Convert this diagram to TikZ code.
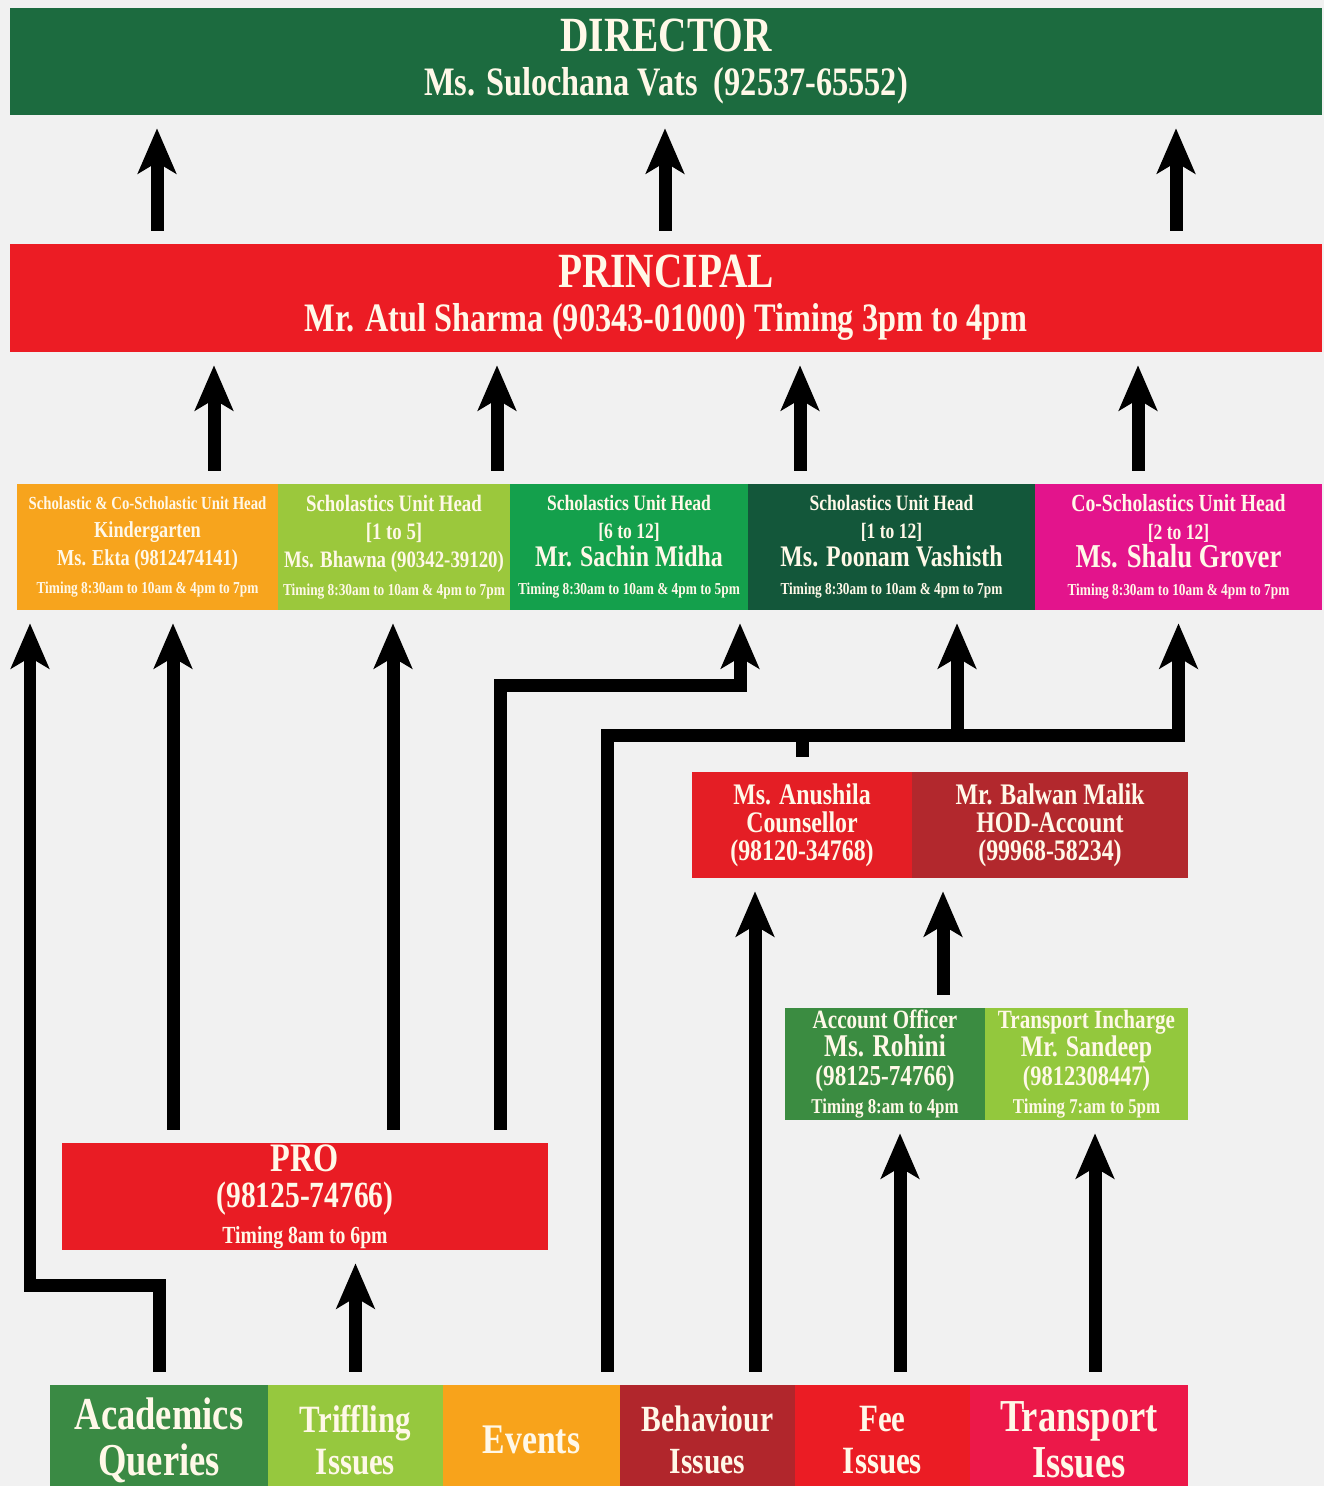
\documentclass[tikz,border=0pt]{standalone}
\usepackage{fontspec}
\setmainfont{Liberation Serif}[FakeStretch=0.8]
\usepackage{tikz}
\usetikzlibrary{arrows.meta}

\definecolor{bg}{HTML}{F1F1F1}
\definecolor{txt}{HTML}{FFF8E8}
\definecolor{dirgreen}{HTML}{1C6B3F}
\definecolor{prinred}{HTML}{EC1C24}
\definecolor{kgorange}{HTML}{F7A41D}
\definecolor{primlime}{HTML}{9BC83C}
\definecolor{secgreen}{HTML}{14A04C}
\definecolor{allgreen}{HTML}{13573A}
\definecolor{comagenta}{HTML}{E3148C}
\definecolor{counsred}{HTML}{E41E25}
\definecolor{hodred}{HTML}{B2282D}
\definecolor{accgreen}{HTML}{3B8C41}
\definecolor{translime}{HTML}{93C83D}
\definecolor{prored}{HTML}{E91C24}
\definecolor{acadgreen}{HTML}{3A8A44}
\definecolor{triflime}{HTML}{96C83E}
\definecolor{evorange}{HTML}{F8A31B}
\definecolor{behavred}{HTML}{B1262C}
\definecolor{feered}{HTML}{EB1C24}
\definecolor{transred}{HTML}{EC1849}

\newcommand{\fs}[2]{\fontsize{#1}{#2}\selectfont}

\begin{document}
\begin{tikzpicture}[x=0.02cm, y=-0.02cm]
    \tikzstyle{post} = [rectangle, inner sep=0pt, text=txt, align=center]
    \tikzstyle{link} = [line width=0.26cm, shorten <=0.26cm, shorten >=0.26cm, -{Stealth[length=0.9cm, width=0.76cm, inset=0.22cm]}]
    \tikzstyle{wire} = [line width=0.26cm]

    % Background
    \fill[bg] (0,0) rectangle (1324,1486);
    \useasboundingbox (0,0) rectangle (1324,1486);

    % Director and principal
    \node[post, fill=dirgreen, minimum width=26.24cm, minimum height=2.14cm, font=\bfseries\fs{23}{25.5}] (dir) at (666,61.5)
        {\fs{28}{25.5}DIRECTOR\\ Ms. Sulochana Vats~~(92537-65552)};
    \node[post, fill=prinred, minimum width=26.24cm, minimum height=2.16cm, font=\bfseries\fs{23}{25}] (prin) at (666,298)
        {\fs{28}{25}PRINCIPAL\\ Mr. Atul Sharma (90343-01000) Timing 3pm to 4pm};

    % Unit heads
    \node[post, fill=kgorange, minimum width=5.22cm, minimum height=2.52cm, font=\bfseries\fs{12}{16}] (u1) at (147.5,547)
        {\fs{10.5}{16}Scholastic \& Co-Scholastic Unit Head\\ \fs{13}{16}Kindergarten\\ \fs{13}{16}Ms. Ekta (9812474141)\\ \fs{9.5}{16}Timing 8:30am to 10am \& 4pm to 7pm};
    \node[post, fill=primlime, minimum width=4.64cm, minimum height=2.52cm, font=\bfseries\fs{13.4}{16}] (u2) at (394,547)
        {Scholastics Unit Head\\ {[1 to 5]}\\ Ms. Bhawna (90342-39120)\\ \fs{9.5}{16}Timing 8:30am to 10am \& 4pm to 7pm};
    \node[post, fill=secgreen, minimum width=4.76cm, minimum height=2.52cm, font=\bfseries\fs{12.5}{16}] (u3) at (629,547)
        {Scholastics Unit Head\\ {[6 to 12]}\\ \fs{17}{16}Mr. Sachin Midha\\ \fs{9.5}{16}Timing 8:30am to 10am \& 4pm to 5pm};
    \node[post, fill=allgreen, minimum width=5.74cm, minimum height=2.52cm, font=\bfseries\fs{12.5}{16}] (u4) at (891.5,547)
        {Scholastics Unit Head\\ {[1 to 12]}\\ \fs{17}{16}Ms. Poonam Vashisth\\ \fs{9.5}{16}Timing 8:30am to 10am \& 4pm to 7pm};
    \node[post, fill=comagenta, minimum width=5.74cm, minimum height=2.52cm, font=\bfseries\fs{12.5}{16}] (u5) at (1178.5,547)
        {\fs{14}{16}Co-Scholastics Unit Head\\ {[2 to 12]}\\ \fs{19}{16}Ms. Shalu Grover\\ \fs{9.5}{16}Timing 8:30am to 10am \& 4pm to 7pm};

    % Counsellor and accounts
    \node[post, fill=counsred, minimum width=4.4cm, minimum height=2.12cm, font=\bfseries\fs{17}{16}] (couns) at (802,825)
        {Ms. Anushila\\ Counsellor\\ (98120-34768)};
    \node[post, fill=hodred, minimum width=5.52cm, minimum height=2.12cm, font=\bfseries\fs{17}{16}] (hod) at (1050,825)
        {Mr. Balwan Malik\\ HOD-Account\\ (99968-58234)};
    \node[post, fill=accgreen, minimum width=4cm, minimum height=2.24cm, font=\bfseries\fs{16.5}{16.2}] (accoff) at (885,1064)
        {\fs{15}{16.2}Account Officer\\ \fs{18}{16.2}Ms. Rohini\\ (98125-74766)\\ \fs{12}{16.2}Timing 8:am to 4pm};
    \node[post, fill=translime, minimum width=4.06cm, minimum height=2.24cm, font=\bfseries\fs{16}{16.2}] (trinch) at (1086.5,1064)
        {\fs{15}{16.2}Transport Incharge\\ \fs{17}{16.2}Mr. Sandeep\\ (9812308447)\\ \fs{12}{16.2}Timing 7:am to 5pm};

    % PRO
    \node[post, fill=prored, minimum width=9.72cm, minimum height=2.14cm, font=\bfseries\fs{21}{20.5}] (pro) at (305,1196.5)
        {\fs{23}{20.5}PRO\\ (98125-74766)\\ \fs{14}{20.5}Timing 8am to 6pm};

    % Issues
    \node[post, fill=acadgreen, minimum width=4.36cm, minimum height=2.2cm, font=\bfseries\fs{26}{26}] (acad) at (159,1440)
        {Academics\\ Queries};
    \node[post, fill=triflime, minimum width=3.5cm, minimum height=2.2cm, font=\bfseries\fs{22}{24}] (trif) at (355.5,1440)
        {Triffling\\ Issues};
    \node[post, fill=evorange, minimum width=3.54cm, minimum height=2.2cm, font=\bfseries\fs{24}{24}] (events) at (531.5,1440)
        {Events};
    \node[post, fill=behavred, minimum width=3.5cm, minimum height=2.2cm, font=\bfseries\fs{21}{24}] (behav) at (707.5,1440)
        {Behaviour\\ Issues};
    \node[post, fill=feered, minimum width=3.5cm, minimum height=2.2cm, font=\bfseries\fs{22}{24}] (fee) at (882.5,1440)
        {Fee\\ Issues};
    \node[post, fill=transred, minimum width=4.36cm, minimum height=2.2cm, font=\bfseries\fs{26}{26}] (trans) at (1079,1440)
        {Transport\\ Issues};

    % Bends of the connectors
    \coordinate (acadbend) at (159,1285);
    \coordinate (acadleft) at (30,1285);
    \coordinate (probend) at (500,685);
    \coordinate (prosec) at (740,685);
    \coordinate (evbend) at (607,735);
    \coordinate (evtap) at (957,735);
    \coordinate (evend) at (1178.5,735);

    % Up to the director and principal
    \foreach \x in {157,665,1176} {
        \draw[link] (\x,0 |- prin.north) -- (\x,0 |- dir.south);
    }
    \foreach \x in {214,497,800,1138} {
        \draw[link] (\x,0 |- u1.north) -- (\x,0 |- prin.south);
    }

    % Up to the unit heads
    \draw[link] (acad.north) -- (acadbend) -- (acadleft) -- (acadleft |- u1.south);
    \draw[link] (173,0 |- pro.north) -- (173,0 |- u1.south);
    \draw[link] (393,0 |- pro.north) -- (393,0 |- u2.south);
    \draw[link] (probend |- pro.north) -- (probend) -- (prosec) -- (prosec |- u3.south);
    \draw[link] (trif.north) -- (trif.north |- pro.south);
    \draw[link] (evbend |- events.north) -- (evbend) -- (evend) -- (u5.south);
    \draw[link, shorten <=0pt] (evtap) -- (evtap |- u4.south);
    \draw[wire, shorten <=0.3cm] (couns.north) -- (couns.north |- evbend);

    % Counsellor and accounts
    \draw[link] (755,0 |- behav.north) -- (755,0 |- couns.south);
    \draw[link] (943,0 |- accoff.north) -- (943,0 |- hod.south);
    \draw[link] (900,0 |- fee.north) -- (900,0 |- accoff.south);
    \draw[link] (1095,0 |- trans.north) -- (1095,0 |- trinch.south);
\end{tikzpicture}
\end{document}
